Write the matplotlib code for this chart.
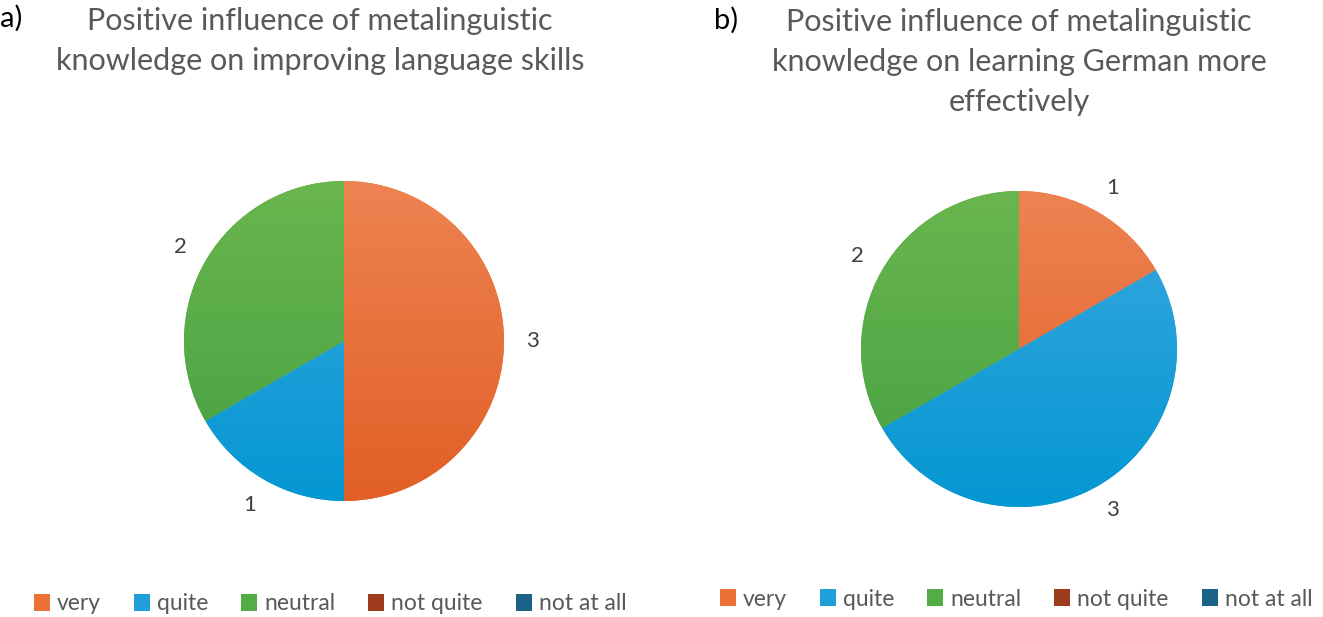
import numpy as np
import matplotlib.pyplot as plt
from matplotlib.patches import Patch
from matplotlib.colors import LinearSegmentedColormap

plt.rcParams['font.family'] = ['Lato', 'DejaVu Sans']

categories = ["very", "quite", "neutral", "not quite", "not at all"]
values_a = [3, 1, 2, 0, 0]
values_b = [1, 3, 2, 0, 0]
title_a = "Positive influence of metalinguistic\nknowledge on improving language skills"
title_b = "Positive influence of metalinguistic\nknowledge on learning German more\neffectively"

# top/bottom shades of each slice (Office-like gradient)
shades = [("#EE8352", "#E15F26"), ("#3AA8DF", "#0497D2"), ("#6AB64E", "#45A044"),
          ("#A84A2C", "#962F14"), ("#2A6F94", "#135A80")]
flat = ["#EA7035", "#1FA0DA", "#54AC46", "#9E3B1C", "#1B6287"]
grey = "#595959"

W, H = 1323, 617
fig = plt.figure(figsize=(W / 100, H / 100), dpi=100)


def draw_pie(values, cx, cy, r, half=220):
    ax = fig.add_axes([(cx - half) / W, (H - cy - half) / H, 2 * half / W, 2 * half / H])
    labels = [str(v) if v else "" for v in values]
    wedges, texts = ax.pie(values, labels=labels, startangle=90, counterclock=False,
                           labeldistance=1.18, colors=flat,
                           textprops=dict(fontsize=16, color="#404040"))
    for t in texts:
        t.set_ha("center")
        t.set_va("center")
    grad = np.linspace(0, 1, 256).reshape(-1, 1)
    for w, (top, bot) in zip(wedges, shades):
        cmap = LinearSegmentedColormap.from_list("g", [top, bot])
        im = ax.imshow(grad, cmap=cmap, extent=(-1, 1, -1, 1), origin="upper",
                       aspect="auto", zorder=w.get_zorder())
        im.set_clip_path(w)
    lim = half / r
    ax.set_xlim(-lim, lim)
    ax.set_ylim(-lim, lim)
    ax.set_aspect("equal")
    ax.axis("off")
    return ax


draw_pie(values_a, 344, 341, 160)
draw_pie(values_b, 1019, 349, 158)

fig.text(320 / W, 1 - 41 / H, title_a, ha="center", va="center", fontsize=22,
         color=grey, linespacing=1.5)
fig.text(1019 / W, 1 - 62 / H, title_b, ha="center", va="center", fontsize=22,
         color=grey, linespacing=1.5)
fig.text(0 / W, 1 - 18 / H, "a)", ha="left", va="center", fontsize=21, color="black")
fig.text(714 / W, 1 - 20 / H, "b)", ha="left", va="center", fontsize=21, color="black")

handles = [Patch(facecolor=c, edgecolor="none") for c in flat]
for xc, yc in [(330, 604), (1016, 599)]:
    fig.legend(handles, categories, loc="center", bbox_to_anchor=(xc / W, 1 - yc / H),
               ncol=5, frameon=False, fontsize=16.5, labelcolor=grey,
               handlelength=0.7, handleheight=0.7, handletextpad=0.3, columnspacing=1.45)

fig.savefig("out.png", dpi=100)
